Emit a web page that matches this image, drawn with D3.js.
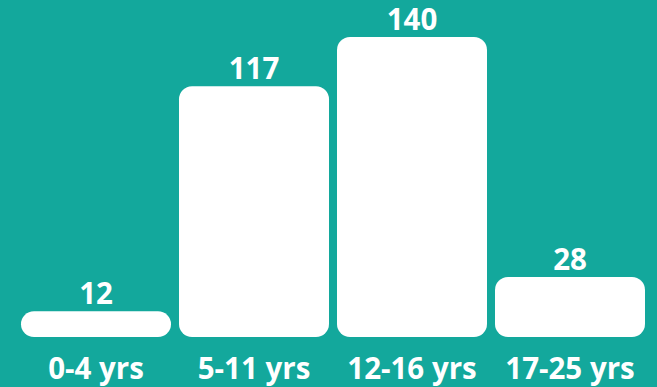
<!DOCTYPE html>
<html>
<head>
<meta charset="utf-8">
<script src="https://cdn.jsdelivr.net/npm/d3@7"></script>
<style>
  html, body { margin: 0; padding: 0; background: #13a89c; }
  svg { display: block; }
</style>
</head>
<body>
<script>
const categories = ["0-4 yrs", "5-11 yrs", "12-16 yrs", "17-25 yrs"];
const values = [12, 117, 140, 28];

const W = 657, H = 387;
const svg = d3.select("body").append("svg").attr("width", W).attr("height", H);
svg.append("rect").attr("width", W).attr("height", H).attr("fill", "#13a89c");

const x = d3.scaleBand().domain(categories).range([17, 649]).paddingInner(8 / 158).paddingOuter(4 / 158);
const y = d3.scaleLinear().domain([0, 140]).range([337, 37]);

svg.selectAll("rect.bar").data(values).join("rect")
  .attr("class", "bar")
  .attr("x", (d, i) => x(categories[i]))
  .attr("y", d => y(d))
  .attr("width", x.bandwidth())
  .attr("height", d => y(0) - y(d))
  .attr("rx", 13).attr("ry", 13)
  .attr("fill", "#ffffff");

svg.selectAll("text.val").data(values).join("text")
  .attr("class", "val")
  .attr("x", (d, i) => x(categories[i]) + x.bandwidth() / 2)
  .attr("y", d => y(d) - 7.5)
  .attr("text-anchor", "middle")
  .attr("font-family", "'Open Sans', sans-serif")
  .attr("font-weight", 700)
  .attr("font-size", 29.5)
  .attr("fill", "#ffffff")
  .text(d => d);

const xAxis = d3.axisBottom(x).tickSize(0).tickPadding(0);
const gx = svg.append("g").attr("transform", "translate(0,379)").call(xAxis);
gx.select(".domain").remove();
gx.selectAll("text")
  .attr("y", 0).attr("dy", 0)
  .attr("font-family", "'Open Sans', sans-serif")
  .attr("font-weight", 700)
  .attr("font-size", 29.5)
  .attr("fill", "#ffffff");
</script>
</body>
</html>
